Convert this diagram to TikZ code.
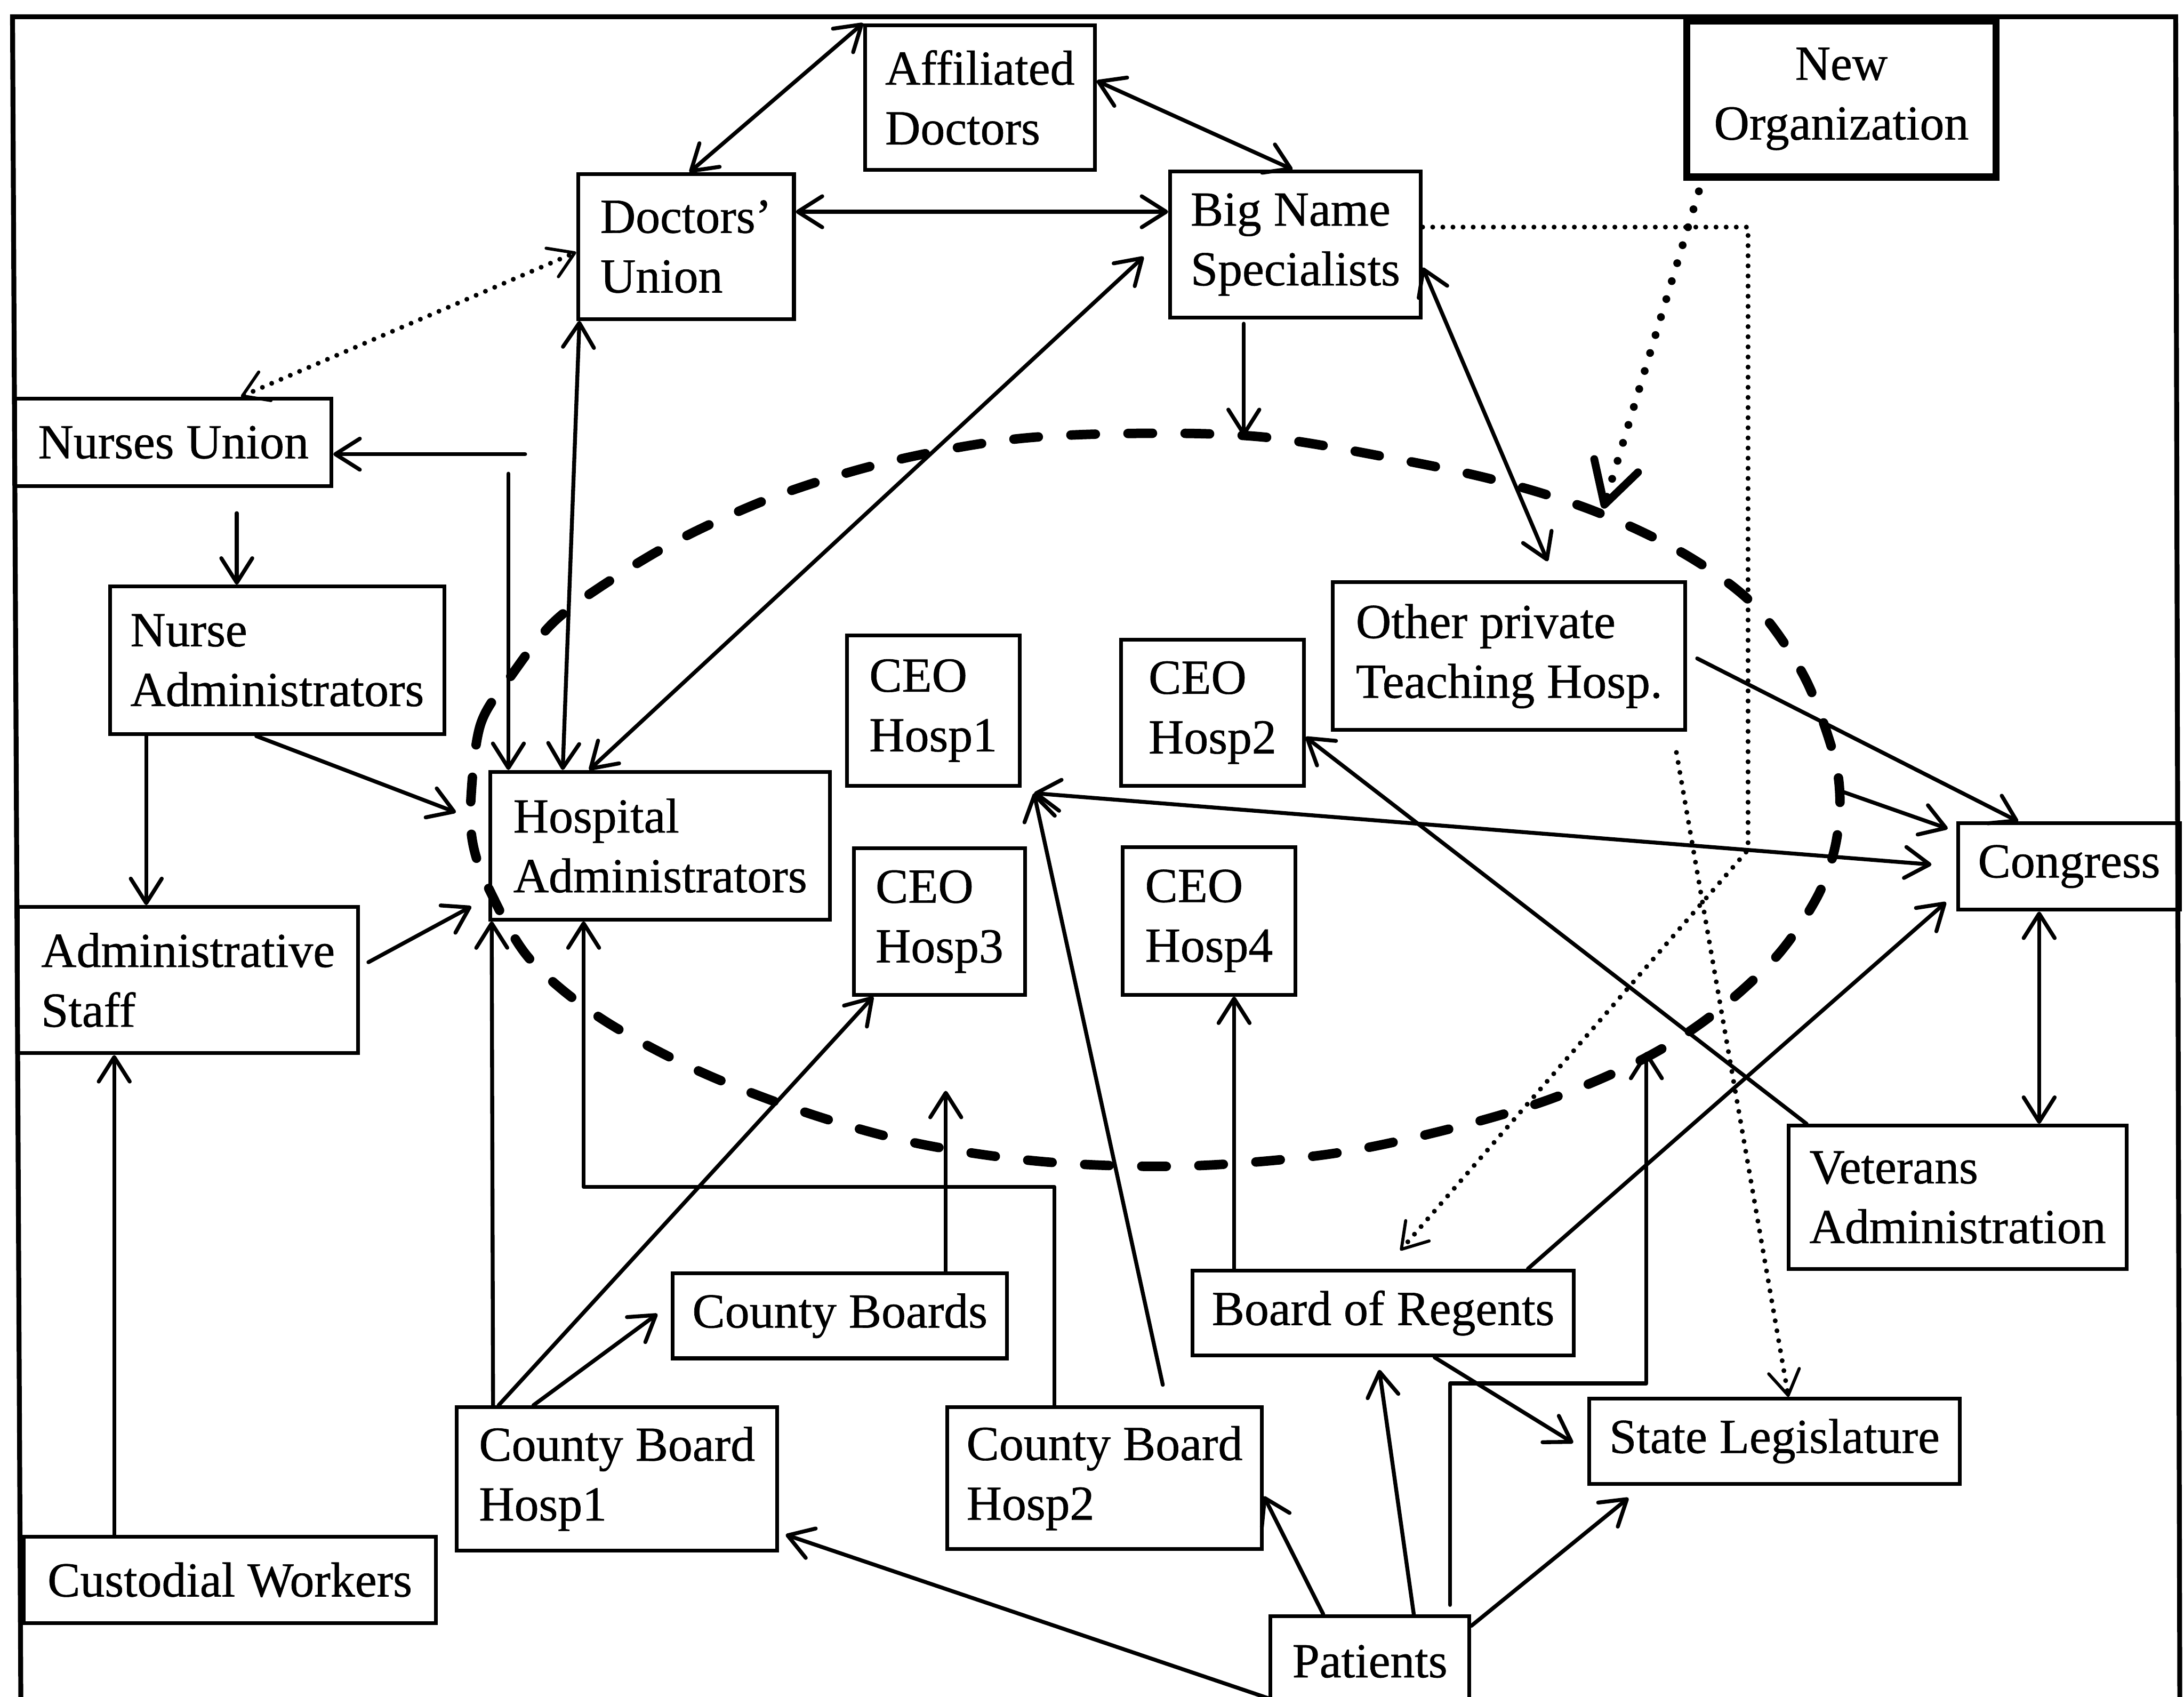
\documentclass[tikz,border=0pt]{standalone}
\usepackage{fontspec}
\setmainfont{Liberation Serif}[UprightFeatures={FakeBold=0.7}]
\usetikzlibrary{arrows.meta,calc}

% \orgbox[opts]{name}{x1}{y1}{x2}{y2}{text}: a box given by its corners
\newcommand\orgbox[7][]{%
  \node[box,#1,minimum width={(#5-#3)*0.03cm},minimum height={(#6-#4)*0.03cm}]
    (#2) at ({(#3+#5)/2},{(#4+#6)/2}) {#7};}

\tikzset{
  box/.style={draw, line width=2.3pt, inner sep=0pt, align=left,
    font=\fontsize{30}{36.6}\selectfont},
  conn/.style={line width=2.4pt, line cap=round, line join=round},
  dots/.style={line width=3pt, line cap=round, dash pattern=on 0pt off 6.2pt},
  heavydots/.style={line width=4.8pt, line cap=round, dash pattern=on 0pt off 11.5pt},
  ring/.style={line width=5.8pt, line cap=round, dash pattern=on 15pt off 20pt},
  >={Straight Barb[length=15pt,width=19pt,round]},
  thintip/.style={arrows={-Straight Barb[length=15pt,width=19pt,round,line width=1.9pt]}},
}

\begin{document}
\begin{tikzpicture}[x=0.03cm,y=-0.03cm]
\useasboundingbox (0,0) rectangle (1568,1218);

% outer frame
\draw[line width=3pt] (15,1230) -- (9,12) -- (1562,12) -- (1565,1230);

% the dashed ring around the hospital executives
\draw[ring] plot[smooth cycle, tension=0.55] coordinates {
  (338,575) (345,520) (367,485) (397,447) (436,418) (490,386) (560,355)
  (640,331) (730,315) (825,311) (910,314) (1000,329) (1075,345) (1145,367)
  (1210,398) (1260,435) (1295,485) (1316,540) (1321,575) (1317,610)
  (1304,645) (1275,687) (1230,728) (1180,760) (1110,790) (1030,813)
  (950,829) (850,837) (751,834) (660,821) (580,799) (500,768) (430,730)
  (380,688) (352,640) (340,608)};

% boxes
\orgbox{ad}{621}{18}{786}{122}{Affiliated\\Doctors}
\orgbox{du}{415}{125}{570}{229}{Doctors’\\Union}
\orgbox{bns}{840}{123}{1020}{228}{Big Name\\Specialists}
\orgbox[line width=4.5pt,align=center]{neworg}{1211}{15}{1433}{127}{New\\Organization}
\orgbox{nu}{11}{286}{238}{349}{Nurses Union}
\orgbox{na}{79}{421}{319}{527}{Nurse\\Administrators}
\orgbox{ha}{352}{554}{596}{660}{Hospital\\Administrators}
\orgbox{ceoa}{608}{456}{732}{564}{CEO\\Hosp1}
\orgbox{ceob}{805}{459}{936}{564}{CEO\\Hosp2}
\orgbox{ceoc}{613}{609}{736}{714}{CEO\\Hosp3}
\orgbox{ceod}{806}{608}{930}{714}{CEO\\Hosp4}
\orgbox{oth}{957}{418}{1210}{524}{Other private\\Teaching Hosp.}
\orgbox{congress}{1406}{591}{1565}{653}{Congress}
\orgbox{adst}{13}{651}{257}{756}{Administrative\\Staff}
\orgbox{va}{1284}{808}{1527}{911}{Veterans\\Administration}
\orgbox{cbs}{483}{914}{723}{975}{County Boards}
\orgbox{bor}{856}{912}{1130}{973}{Board of Regents}
\orgbox{cbha}{328}{1010}{558}{1113}{County Board\\Hosp1}
\orgbox{cbhb}{680}{1010}{906}{1112}{County Board\\Hosp2}
\orgbox{sl}{1141}{1004}{1407}{1065}{State Legislature}
\orgbox{cust}{17}{1103}{313}{1165}{Custodial Workers}
\orgbox{pat}{912}{1160}{1055}{1225}{Patients}

% free ends on the ring and loose line ends
\coordinate (ringtop) at (893,313);
\coordinate (ringno) at (1151,365);
\coordinate (ringcb) at (679,783);
\coordinate (ringpat) at (1182,755);
\coordinate (ringout) at (1322,568);
\coordinate (nujoin) at (377,326);
\coordinate (hajoin) at (365,340);
\coordinate (ceotip) at ($(ceoa.south east)+(9,4)$);

% doctors
\draw[conn,<->] (du.north -| 495,0) -- (ad.north west);
\draw[conn,<->] (ad.east |- 0,58) -- (bns.north -| 928,0);
\draw[conn,<->] (du.east |- 0,152) -- (bns.west |- 0,152);
\draw[conn,<->] (du.south -| 416,0) -- (ha.north -| 404,0);
\draw[conn,<->,shorten >=0.72cm] (ha.north -| 423,0) -- (bns.west |- 0,168);
\draw[conn,<->,shorten >=0.45cm] (bns.east |- 0,192) -- (oth.north -| 1117,0);
\draw[conn,->,shorten <=0.09cm] (bns.south -| 893,0) -- (ringtop);

% nurses and staff
\draw[dots,{Straight Barb[length=15pt,width=19pt,round,line width=1.9pt]}-{Straight Barb[length=15pt,width=19pt,round,line width=1.9pt]}]
  (nu.north -| 173,0) -- (du.west |- 0,181);
\draw[conn,->] (nujoin) -- (nu.east |- nujoin);
\draw[conn,->] (hajoin) -- (ha.north -| hajoin);
\draw[conn,->,shorten <=0.54cm] (nu.south -| 170,0) -- (na.north -| 170,0);
\draw[conn,->,shorten >=0.75cm] (na.south -| 184,0) -- (ha.west |- 0,592);
\draw[conn,->] (na.south -| 105,0) -- (adst.north -| 105,0);
\draw[conn,->,shorten <=0.21cm,shorten >=0.42cm] (adst.east |- 0,694) -- (ha.west |- 0,644);
\draw[conn,->] (cust.north -| 82,0) -- (adst.south -| 82,0);

% county hospitals
\draw[conn,->] (cbha.north -| 354,0) -- (ha.south -| 353,0);
\draw[conn,->] (cbha.north -| 358,0) -- (ceoc.south -| 627,0);
\draw[conn,->,shorten >=0.36cm] (cbha.north -| 383,0) -- (cbs.west |- 0,936);
\draw[conn,->] (cbhb.north -| 757,0) -- (757,852) -| (ha.south -| 419,0);
\draw[conn,->] (cbs.north -| 679,0) -- (ringcb);
\draw[conn,->,shorten <=0.45cm] (cbhb.north -| 838,0) -- (ceotip);

% federal and state
\draw[conn,<->,shorten >=0.54cm] (ceotip) -- (congress.west |- 0,622);
\draw[conn,->] (va.north -| 1297,0) -- (ceob.east |- 0,529);
\draw[conn,->,shorten <=0.24cm] (oth.east |- 0,469) -- (congress.north -| 1449,0);
\draw[conn,->,shorten >=0.2cm] (ringout) -- (congress.west |- 0,597);
\draw[conn,->,shorten >=0.3cm] (bor.north -| 1097,0) -- (congress.west |- 0,641);
\draw[conn,<->] (congress.south -| 1464,0) -- (va.north -| 1464,0);
\draw[conn,->] (bor.north -| 886,0) -- (ceod.south -| 886,0);
\draw[conn,->,shorten >=0.36cm] (bor.south -| 1030,0) -- (sl.west |- 0,1042);

% patients
\draw[conn,->,shorten >=0.15cm] (pat.west |- 0,1219) -- (cbha.east |- 0,1100);
\draw[conn,->] (pat.north -| 950,0) -- (cbhb.east |- 0,1074);
\draw[conn,->,shorten >=0.27cm] (pat.north -| 1015,0) -- (bor.south -| 989,0);
\draw[conn,->,shorten <=0.2cm] (pat.north -| 1041,0) |- (1182,993) -- (ringpat);
\draw[conn,->,shorten >=0.42cm] (pat.east |- 0,1167) -- (sl.south -| 1180,0);

% the new organization
\draw[heavydots,-{Straight Barb[length=25pt,width=28pt,round]},shorten <=0.24cm]
  (neworg.south -| 1222,0) -- (ringno);

% thin dotted links
\draw[dots,thintip,shorten >=0.52cm]
  (bns.east |- 0,163) -- (1255,163) -- (1255,610) -- (bor.north -| 994,0);
\draw[dots,thintip,shorten <=0.45cm]
  (oth.south -| 1201,0) -- (sl.north -| 1284,0);
\end{tikzpicture}
\end{document}
